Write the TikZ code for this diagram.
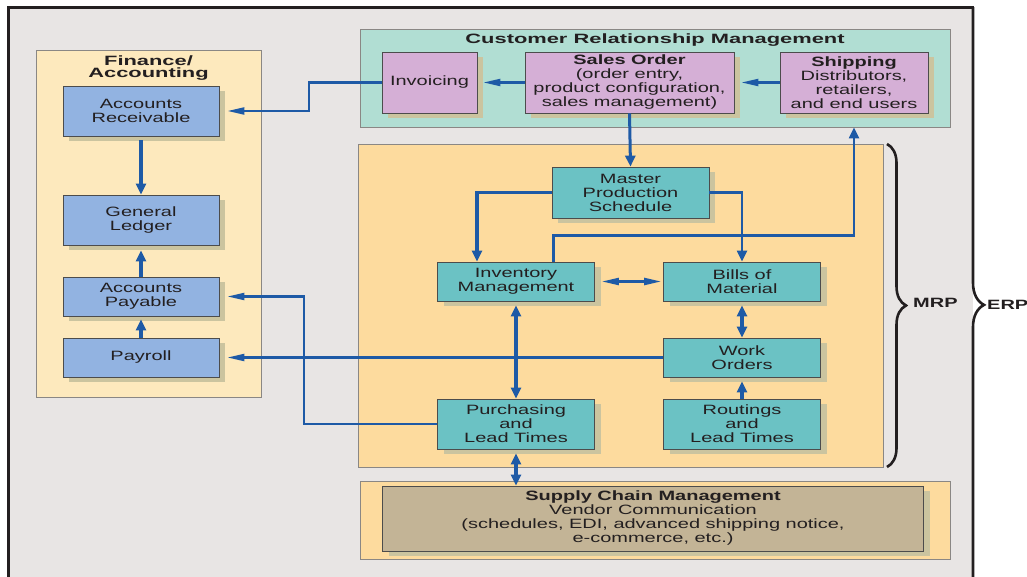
\documentclass[tikz,border=0pt]{standalone}
\usepackage{fontspec}
\setmainfont{Liberation Sans}[FakeStretch=1.48]
\newfontfamily\headfont{Liberation Sans}[FakeStretch=1.62]
\usepackage{xcolor}
\usepackage{tikz}
\usetikzlibrary{arrows.meta,shadows,decorations.pathreplacing}
\definecolor{ink}{HTML}{231F20}
\definecolor{frameg}{HTML}{E8E5E4}
\definecolor{finy}{HTML}{FDE9BD}
\definecolor{mrpy}{HTML}{FDDB9E}
\definecolor{crmg}{HTML}{B1DED3}
\definecolor{blueb}{HTML}{92B3E1}
\definecolor{pinkb}{HTML}{D5AFD6}
\definecolor{tealb}{HTML}{6BC2C4}
\definecolor{tanb}{HTML}{C3B496}
\definecolor{shade}{HTML}{CBC49F}
\definecolor{arrowb}{HTML}{1E5AA6}
\definecolor{groupline}{HTML}{8A8784}

\begin{document}
\begin{tikzpicture}[x=1pt,y=-1pt,every node/.style={font=\fontsize{13.5}{14}\selectfont,text=ink,align=center,inner sep=0pt},
  group/.style={draw=groupline,line width=0.8pt},
  box/.style={draw=black!70,line width=0.8pt,drop shadow={shadow xshift=6pt,shadow yshift=-5pt,fill=shade,opacity=1}},
  finbox/.style={box,fill=blueb,minimum width=156pt},
  crmbox/.style={box,fill=pinkb,minimum height=61pt},
  mrpbox/.style={box,fill=tealb,minimum width=157pt},
  head/.style={font=\headfont\bfseries\fontsize{13.5}{12}\selectfont},
  line/.style={draw=arrowb,line width=2.2pt},
  hto/.style={line,-{Triangle[length=17pt,width=7pt]}},
  vto/.style={line,-{Triangle[length=11pt,width=10pt]}},
  hboth/.style={line,{Triangle[length=17pt,width=7pt]}-{Triangle[length=17pt,width=7pt]}},
  vboth/.style={line,{Triangle[length=11pt,width=10pt]}-{Triangle[length=11pt,width=10pt]}},
  heavy/.style={line width=3.2pt},
  curlyline/.style={draw=ink,line width=2.6pt,decorate}]
\useasboundingbox (0,0) rectangle (1027,577);
% ERP frame
\fill[frameg] (8,8) rectangle (973,577);
\draw[ink,line width=3pt] (8,577) -- (8,8) -- (974,8);
\begin{scope}
\clip (0,8) rectangle (1027,577);
\draw[curlyline,decoration={brace,amplitude=22pt,aspect=0.525}] (962,-40) -- (962,617);
\end{scope}
\node[font=\bfseries\fontsize{13.5}{14}\selectfont,anchor=west] (erp) at (987,305) {ERP};
% groups
\node[group,fill=finy,minimum width=225pt,minimum height=347pt] (fin) at (148.5,223.5) {};
\node[head] (fintitle) at (148.5,68.5) {Finance/\\Accounting};
\node[group,fill=crmg,minimum width=590pt,minimum height=98pt] (crm) at (655,78) {};
\node[head] (crmtitle) at (655,40) {Customer Relationship Management};
\node[group,fill=mrpy,minimum width=525pt,minimum height=323pt] (mrp) at (620.5,305.5) {};
\node[group,fill=mrpy,minimum width=590pt,minimum height=78pt] (scm) at (655,520) {};
\draw[curlyline,decoration={brace,amplitude=19pt}] (887,144) -- (887,467);
\node[font=\bfseries\fontsize{13.5}{14}\selectfont,anchor=west] (mrplabel) at (913,303) {MRP};
% finance / accounting
\node[finbox,minimum height=50pt] (ar) at (141,111) {Accounts\\Receivable};
\node[finbox,minimum height=50pt] (gl) at (141,220) {General\\Ledger};
\node[finbox,minimum height=39pt] (ap) at (141,296.5) {Accounts\\Payable};
\node[finbox,minimum height=39pt] (pay) at (141,357.5) {Payroll};
% customer relationship management
\node[crmbox,minimum width=95pt] (invoice) at (429.5,82.5) {Invoicing};
\node[crmbox,minimum width=209pt] (so) at (629.5,82.5) {\textbf{Sales Order}\\(order entry,\\product configuration,\\sales management)};
\node[crmbox,minimum width=148pt] (ship) at (854,82.5) {\textbf{Shipping}\\Distributors,\\retailers,\\and end users};
% MRP
\node[mrpbox,minimum height=51pt] (mps) at (630.5,192.5) {Master\\Production\\Schedule};
\node[mrpbox,minimum height=39pt] (inventory) at (516,281.5) {Inventory\\Management};
\node[mrpbox,minimum height=39pt] (bom) at (742,281.5) {Bills of\\Material};
\node[mrpbox,minimum height=39pt] (wo) at (742,357.5) {Work\\Orders};
\node[mrpbox,minimum height=50pt] (purch) at (516,424) {Purchasing\\and\\Lead Times};
\node[mrpbox,minimum height=50pt] (rout) at (742,424) {Routings\\and\\Lead Times};
% supply chain
\node[box,fill=tanb,minimum width=541pt,minimum height=65pt] (scmin) at (653,518.5) {\textbf{Supply Chain Management}\\Vendor Communication\\(schedules, EDI, advanced shipping notice,\\e-commerce, etc.)};
% connectors
\draw[vto,heavy,shorten <=4pt] (ar.south) -- (gl.north);
\draw[vto,heavy,shorten >=5pt] (ap.north) -- (gl.south);
\draw[vto,heavy,shorten >=3pt] (pay.north) -- (ap.south);
\draw[hto,shorten >=6pt] (so.west) -- (invoice.east);
\draw[hto,shorten >=7pt] (ship.west) -- (so.east);
\draw[hto] (invoice.west) -- ++(-73,0) |- ([xshift=8pt]ar.east);
\draw[vto,line width=3pt] (so.south) -- (mps.north);
\draw[vto,heavy] (mps.west) -| ([xshift=-39pt]inventory.north);
\draw[vto] (mps.east) -| (bom.north);
\draw[vto] ([xshift=37.5pt]inventory.north) -- ++(0,-26) -| (crm.south -| ship.south);
\draw[hboth,shorten <=7pt,shorten >=2pt] (inventory.east) -- (bom.west);
\draw[vboth,heavy,shorten <=4pt] (bom.south) -- (wo.north);
\draw[vto,heavy,shorten >=4pt] (rout.north) -- (wo.south);
\draw[vboth,heavy,shorten <=4pt] (inventory.south) -- (purch.north);
\draw[hto] (wo.west) -- ([xshift=8pt]pay.east);
\draw[hto] (purch.west) -- ++(-133.5,0) |- ([xshift=8pt]ap.east);
\draw[vboth,heavy,shorten <=4pt] (purch.south) -- (purch.south |- scmin.north);
\end{tikzpicture}
\end{document}
